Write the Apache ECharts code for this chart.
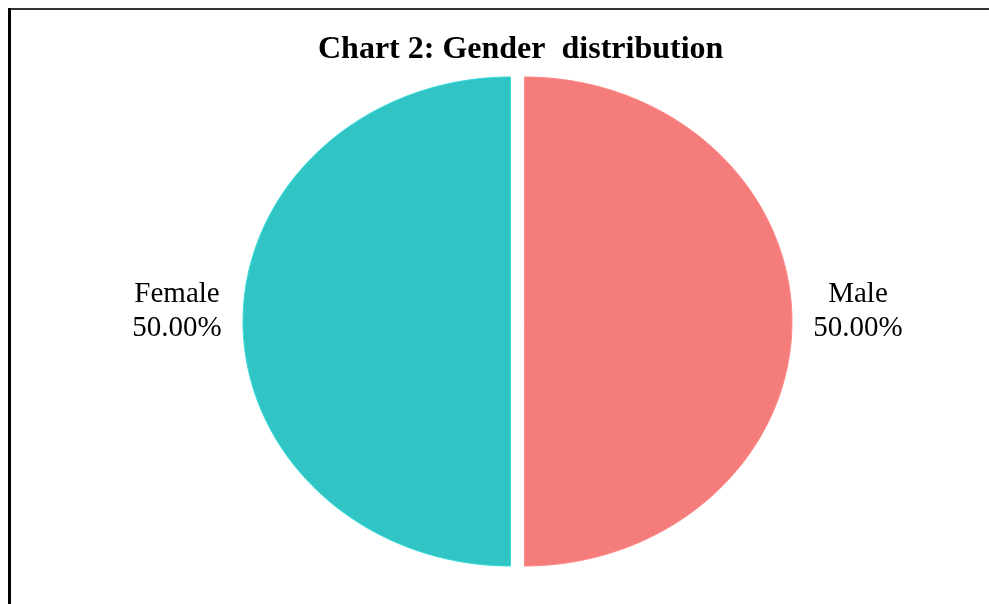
<!DOCTYPE html>
<html>
<head>
<meta charset="utf-8">
<title>Chart 2: Gender distribution</title>
<script src="https://cdn.jsdelivr.net/npm/echarts@6/dist/echarts.min.js"></script>
<style>
  html, body { margin: 0; padding: 0; background: #fff; }
  #chart { width: 989px; height: 604px; }
</style>
</head>
<body>
<div id="chart"></div>
<script>
// data
let categories = ['Male', 'Female']
let values = [50, 50]
let colors = ['#f47c7a', '#30c4c4']

let total = values.reduce((a, b) => a + b, 0)

// ellipse geometry (the source image is a stretched pie)
let cx = 517.5
let cy = 321.5
let rx = 267.5
let ry = 244.5
let gap = 7

function renderSlice (params, api) {
  let i = params.dataIndex
  let before = 0
  for (let k = 0; k < i; k++) before += values[k]
  // start at top, go clockwise
  let a0 = Math.PI / 2 - before / total * Math.PI * 2
  let a1 = a0 - api.value(1) / total * Math.PI * 2
  let mid = (a0 + a1) / 2
  let ox = cx + Math.cos(mid) * gap
  let oy = cy - Math.sin(mid) * gap
  let pts = [[ox, oy]]
  let steps = 120
  for (let s = 0; s <= steps; s++) {
    let a = a0 + (a1 - a0) * s / steps
    pts.push([ox + rx * Math.cos(a), oy - ry * Math.sin(a)])
  }
  let dir = Math.cos(mid) >= 0 ? 1 : -1
  let pct = (api.value(1) / total * 100).toFixed(2) + '%'
  return {
    type: 'group',
    children: [{
      type: 'polygon',
      shape: { points: pts },
      style: { fill: colors[i], stroke: echarts.color.lift(colors[i], -0.12), lineWidth: 1 }
    }, {
      type: 'text',
      x: ox + dir * (rx + 66),
      y: cy - 10,
      style: {
        text: categories[i] + '\n' + pct,
        fill: '#000',
        font: '29px "Liberation Serif", "Times New Roman", serif',
        lineHeight: 34,
        align: 'center',
        verticalAlign: 'middle'
      }
    }]
  }
}

let chart = echarts.init(document.getElementById('chart'))
chart.setOption({
  animation: false,
  title: {
    text: 'Chart 2: Gender  distribution',
    left: 313,
    top: 29,
    textStyle: {
      fontFamily: '"Liberation Serif", "Times New Roman", serif',
      fontWeight: 'bold',
      fontSize: 32,
      color: '#000'
    }
  },
  graphic: [{
    type: 'line',
    shape: { x1: 9, y1: 9, x2: 989, y2: 9 },
    style: { stroke: '#333', lineWidth: 2 }
  }, {
    type: 'line',
    shape: { x1: 9.5, y1: 8, x2: 9.5, y2: 604 },
    style: { stroke: '#000', lineWidth: 3 }
  }],
  series: [{
    type: 'custom',
    coordinateSystem: 'none',
    renderItem: renderSlice,
    data: categories.map((c, i) => [c, values[i]])
  }]
})
</script>
</body>
</html>
